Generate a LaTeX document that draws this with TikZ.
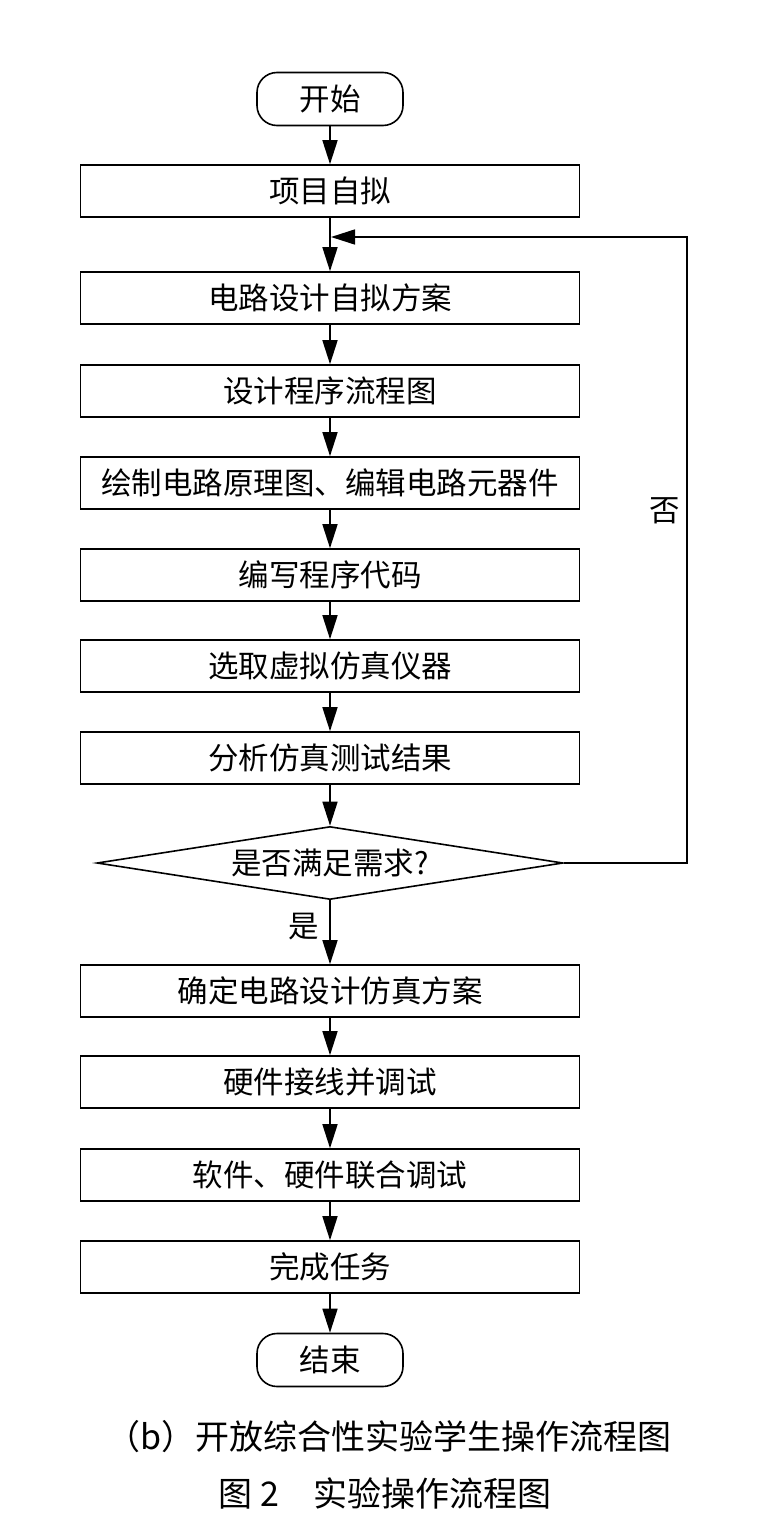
\documentclass[tikz,border=0pt]{standalone}
\usepackage{fontspec}
\setmainfont{Noto Sans CJK SC}
\usepackage{tikz}
\usetikzlibrary{arrows.meta,shapes.geometric}

\tikzset{
  procbox/.style={draw,line width=1.6pt,minimum width=499pt,minimum height=52pt,inner sep=0pt,font=\fontsize{30.5}{34}\selectfont},
  termbox/.style={draw,line width=1.6pt,rounded corners=20pt,minimum width=146pt,minimum height=53pt,inner sep=0pt,font=\fontsize{30.5}{34}\selectfont},
  decbox/.style={draw,line width=1.6pt,diamond,aspect=6.4,minimum width=466pt,minimum height=73pt,inner sep=0pt,font=\fontsize{30.5}{34}\selectfont},
  arr/.style={line width=1.6pt,-{Triangle[length=24pt,width=15pt]}},
  lbl/.style={font=\fontsize{30.5}{34}\selectfont}
}

\begin{document}
\begin{tikzpicture}[x=1pt,y=-1pt]
\useasboundingbox (0,0) rectangle (776,1528);
\node (start) at (330,99) [termbox] {开始};
\node (b1) at (330,191) [procbox] {项目自拟};
\node (b2) at (330,298) [procbox] {电路设计自拟方案};
\node (b3) at (330,391) [procbox] {设计程序流程图};
\node (b4) at (330,483) [procbox] {绘制电路原理图、编辑电路元器件};
\node (b5) at (330,575) [procbox] {编写程序代码};
\node (b6) at (330,666) [procbox] {选取虚拟仿真仪器};
\node (b7) at (330,758) [procbox] {分析仿真测试结果};
\node (dec) at (330,863) [decbox] {是否满足需求?};
\node (b8) at (330,991) [procbox] {确定电路设计仿真方案};
\node (b9) at (330,1082) [procbox] {硬件接线并调试};
\node (b10) at (330,1175) [procbox] {软件、硬件联合调试};
\node (b11) at (330,1267) [procbox] {完成任务};
\node (stop) at (330,1360) [termbox] {结束};
\node (yes) at (304,927) [lbl] {是};
\node (no) at (665,511) [lbl] {否};
\coordinate (back) at (331,237);
\draw [arr] (start) -- (b1);
\draw [arr] (b1) -- (b2);
\draw [arr] (b2) -- (b3);
\draw [arr] (b3) -- (b4);
\draw [arr] (b4) -- (b5);
\draw [arr] (b5) -- (b6);
\draw [arr] (b6) -- (b7);
\draw [arr] (b7) -- (dec);
\draw [arr] (dec) -- (b8);
\draw [arr] (b8) -- (b9);
\draw [arr] (b9) -- (b10);
\draw [arr] (b10) -- (b11);
\draw [arr] (b11) -- (stop);
\draw [arr] (dec.east) -- (687,863) |- (back);
\node (cap1) at (389,1437) [font=\fontsize{34}{38}\selectfont] {（b）开放综合性实验学生操作流程图};
\node (cap2) at (385,1493) [font=\fontsize{34}{38}\selectfont] {图 2\hspace{1em}实验操作流程图};
\end{tikzpicture}
\end{document}
